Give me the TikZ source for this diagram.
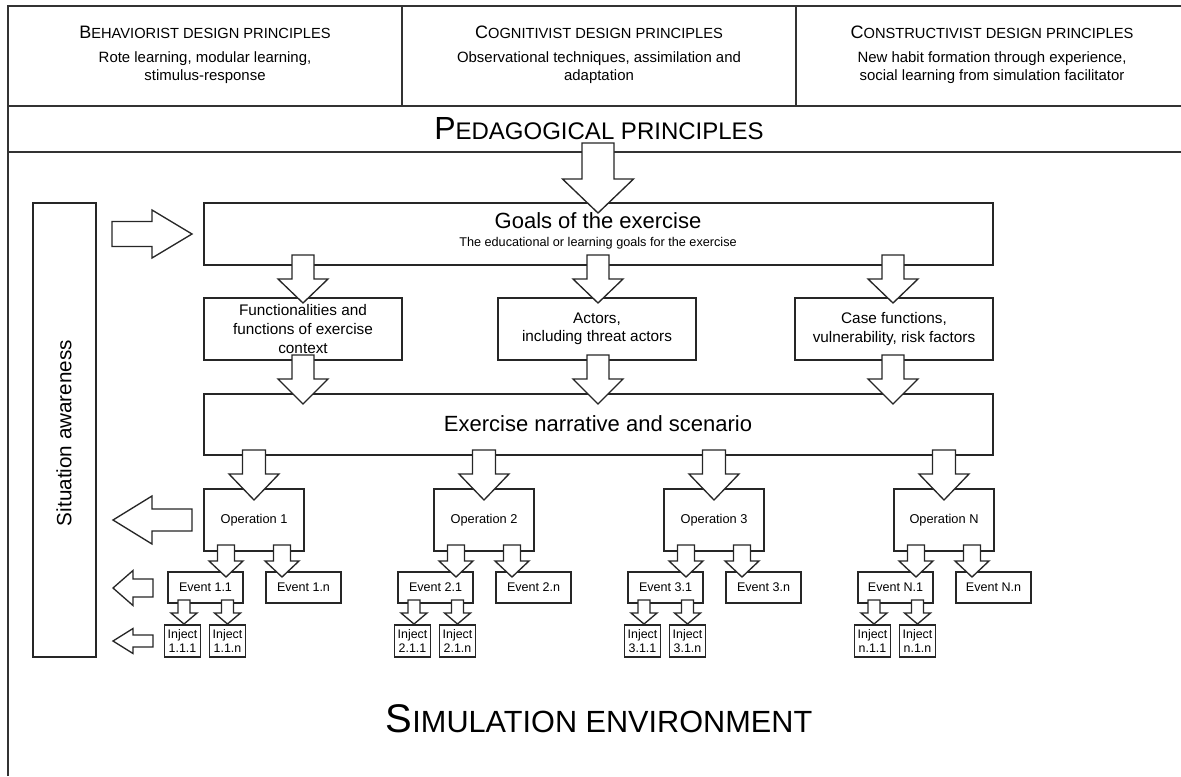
\documentclass[tikz,border=0pt]{standalone}
\usepackage{fontspec}
\setmainfont{Liberation Sans}
\usetikzlibrary{calc}
\newcommand{\fsc}[4]{{\fontsize{#1}{#1}\selectfont #3}{\fontsize{#2}{#2}\selectfont #4}}
% down arrow: cx, ytop, yheadbase, ytip, shaft half width, head half width
\newcommand{\dnarr}[6]{\draw[blk] ({#1-#5},#2) -- ({#1+#5},#2) -- ({#1+#5},#3) -- ({#1+#6},#3) -- (#1,#4) -- ({#1-#6},#3) -- ({#1-#5},#3) -- cycle;}
% horizontal arrow: cy, xtip, xheadbase, xtail, shaft half, head half
\newcommand{\hzarr}[6]{\draw[blk] (#2,#1) -- (#3,{#1-#6}) -- (#3,{#1-#5}) -- (#4,{#1-#5}) -- (#4,{#1+#5}) -- (#3,{#1+#5}) -- (#3,{#1+#6}) -- cycle;}
\def\u{0.75pt}
\tikzset{
  frame/.style={draw=black!80, line width=1.1pt},
  box/.style={draw=black!85, line width=1pt, inner sep=0pt, align=center},
  blk/.style={draw=black!85, fill=white, line width=1pt, line join=miter},
  hdsub/.style={font=\fontsize{11.2}{13.5}\selectfont, align=center},
  midtxt/.style={font=\fontsize{11.5}{13.9}\selectfont},
  optxt/.style={font=\fontsize{9.6}{11}\selectfont},
  evtxt/.style={font=\fontsize{9.4}{11}\selectfont},
  injtxt/.style={font=\fontsize{9.3}{11}\selectfont},
  injbox/.style={box, injtxt, line width=1.4pt},
}
\begin{document}
\begin{tikzpicture}[x=0.75pt,y=-0.75pt]
\useasboundingbox (0,0) rectangle (1181,776);
% outer frame
\draw[frame] (8,776) -- (8,6) -- (1181,6);
\draw[frame] (8,106) -- (1181,106);
\draw[frame] (8,152) -- (1181,152);
\draw[frame] (402,6) -- (402,106);
\draw[frame] (796,6) -- (796,106);
% header
\node (h1) at (205,32) {\fsc{13.5}{11}{B}{EHAVIORIST DESIGN PRINCIPLES}};
\node (h2) at (599,32) {\fsc{13.5}{11}{C}{OGNITIVIST DESIGN PRINCIPLES}};
\node (h3) at (992,32) {\fsc{13.5}{11}{C}{ONSTRUCTIVIST DESIGN PRINCIPLES}};
\node[hdsub] (s1) at (205,68) {Rote learning, modular learning,\\stimulus-response};
\node[hdsub] (s2) at (599,68) {Observational techniques, assimilation and\\adaptation};
\node[hdsub] (s3) at (992,68) {New habit formation through experience,\\social learning from simulation facilitator};
\node (ped) at (599,129) {\fsc{24}{18}{P}{EDAGOGICAL PRINCIPLES}};
\node (sim) at (599,719) {\fsc{30}{23}{S}{IMULATION ENVIRONMENT}};
% situation awareness
\node[box, minimum width=63*\u, minimum height=454*\u] (sit) at (64.5,430) {};
\node[rotate=90, font=\fontsize{15.5}{18}\selectfont] (sitT) at (64,433) {Situation awareness};
% goals
\node[box, minimum width=789*\u, minimum height=62*\u] (goals) at (598.5,234) {};
% row 2
\node[box, midtxt, minimum width=198*\u, minimum height=62*\u] (fun) at (303,329) {Functionalities and\\functions of exercise\\context};
\node[box, midtxt, minimum width=198*\u, minimum height=62*\u] (act) at (597,329) {Actors,\\including threat actors};
\node[box, midtxt, minimum width=198*\u, minimum height=62*\u] (cas) at (894,329) {Case functions,\\vulnerability, risk factors};
% narrative
\node[box, minimum width=789*\u, minimum height=61*\u] (nar) at (598.5,424.5) {};
% operations, events, injects
\foreach \i/\cx/\lab/\ev in {1/254/1/1, 2/484/2/2, 3/714/3/3, 4/944/N/n}{
  \node[box, optxt, minimum width=100*\u, minimum height=62*\u] (op\i) at (\cx,520) {};
  \node[box, evtxt, minimum width=75*\u, minimum height=31*\u] (ea\i) at ({\cx-48.5},587.5) {Event \lab.1};
  \node[box, evtxt, minimum width=75*\u, minimum height=31*\u] (en\i) at ({\cx+49.5},587.5) {Event \lab.n};
  \node[injbox, minimum width=36*\u, minimum height=32*\u] (ia\i) at ({\cx-71.5},641) {Inject\\\ev.1.1};
  \node[injbox, minimum width=36*\u, minimum height=32*\u] (in\i) at ({\cx-26.5},641) {Inject\\\ev.1.n};
}
% arrows
\dnarr{598}{143}{179}{213}{16}{35.5}
\hzarr{234}{192}{152}{112}{12.5}{24}
\foreach \cx in {303,598,893}{
  \dnarr{\cx}{255}{279}{303}{11}{25}
  \dnarr{\cx}{355}{379}{404}{11}{25}
}
\foreach \i/\cx in {1/254, 2/484, 3/714, 4/944}{
  \dnarr{\cx}{450}{474}{500}{11.5}{25}
  \dnarr{\cx-28}{545}{561}{577}{8.5}{17}
  \dnarr{\cx+28}{545}{561}{577}{8.5}{17}
  \dnarr{\cx-70}{600}{613}{624}{6}{13}
  \dnarr{\cx-26.5}{600}{613}{624}{6}{13}
}
\hzarr{520}{113}{152}{192}{11}{24}
\hzarr{588}{113}{133}{153}{9}{17.5}
\hzarr{641}{113}{133}{153}{6}{12.5}
% texts drawn over arrows
\node[font=\fontsize{16.5}{19}\selectfont] (goalsT) at (598,221) {Goals of the exercise};
\node[font=\fontsize{9.5}{11}\selectfont] (goalsS) at (598,243) {The educational or learning goals for the exercise};
\node[font=\fontsize{16.5}{19}\selectfont] (narT) at (598,424) {Exercise narrative and scenario};
\foreach \i/\lab in {1/1, 2/2, 3/3, 4/N}{
  \node[optxt] (opT\i) at (op\i.center) {Operation \lab};
}
\end{tikzpicture}
\end{document}
